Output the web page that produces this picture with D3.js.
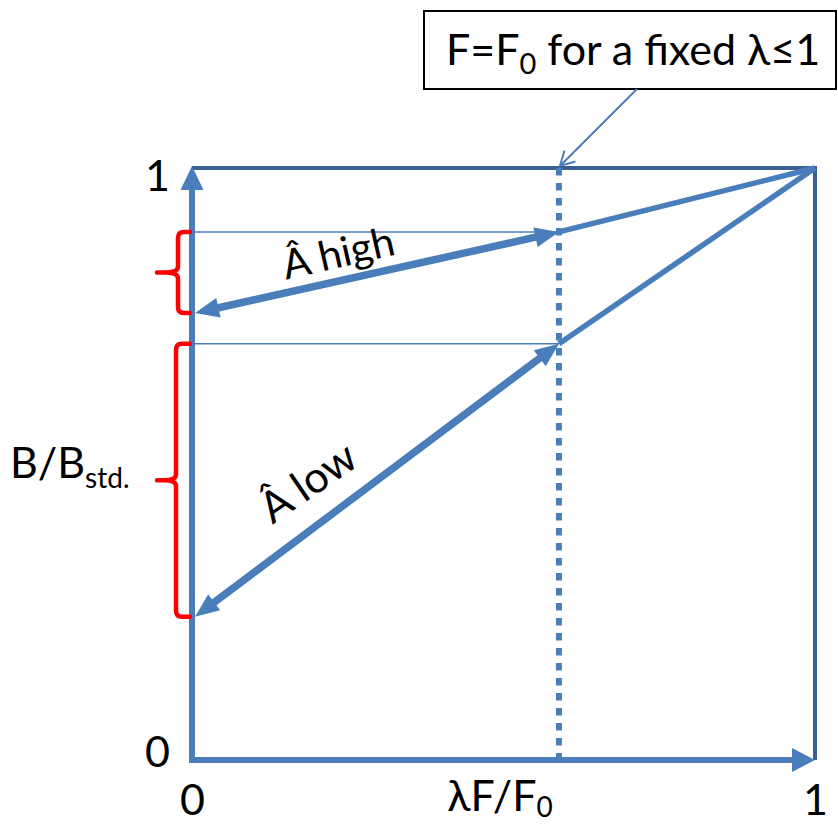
<!DOCTYPE html>
<html><head><meta charset="utf-8">
<script src="https://cdn.jsdelivr.net/npm/d3@7"></script>
<style>body{margin:0;background:#fff}svg{display:block}text{font-family:Lato,"Open Sans",sans-serif;fill:#000}</style>
</head><body>
<script>
// ---- data ----
const xTicks = [0, 1];
const yTicks = [0, 1];
const xLabel = "λF/F";
const yLabel = "B/B";
const fixedX = 0.589;                 // F = F0 for fixed lambda
const highPath = [[0, 0.755], [0.589, 0.892], [1, 1]];
const lowPath  = [[0, 0.242], [0.589, 0.703], [1, 1]];
const braces = [[0.755, 0.892], [0.242, 0.703]];
const curveLabels = ["Â high", "Â low"];
const calloutText = ["F=F", "0", " for a fixed λ≤1"];

const W = 838, H = 825;
const blue = "#4a7ebb", dark = "#3b6190", red = "#ff0000";
const svg = d3.select("body").append("svg").attr("width", W).attr("height", H);
const x = d3.scaleLinear().domain([0, 1]).range([192, 815]);
const y = d3.scaleLinear().domain([0, 1]).range([760, 168]);

function head(tip, from, len, wid, fill) {
  const dx = tip[0] - from[0], dy = tip[1] - from[1];
  const L = Math.hypot(dx, dy), ux = dx / L, uy = dy / L;
  const bx = tip[0] - ux * len, by = tip[1] - uy * len;
  const px = -uy * wid / 2, py = ux * wid / 2;
  svg.append("path").attr("d", `M${tip[0]},${tip[1]}L${bx + px},${by + py}L${bx - px},${by - py}Z`)
    .attr("fill", fill);
}
function shorten(a, b, d) {
  const dx = b[0] - a[0], dy = b[1] - a[1], L = Math.hypot(dx, dy);
  return [b[0] - dx / L * d, b[1] - dy / L * d];
}

// border (top and right)
svg.append("path").attr("d", `M${x(0)},${y(1)}H${x(1)}V${y(0)}`)
  .attr("fill", "none").attr("stroke", dark).attr("stroke-width", 4);

// dotted vertical line
svg.append("line").attr("x1", x(fixedX)).attr("x2", x(fixedX)).attr("y1", y(1)).attr("y2", y(0))
  .attr("stroke", blue).attr("stroke-width", 6).attr("stroke-dasharray", "7.5,7.5");

// thin horizontal guides
[highPath[1][1], lowPath[1][1]].forEach(v => {
  svg.append("line").attr("x1", x(0)).attr("x2", x(fixedX)).attr("y1", y(v)).attr("y2", y(v))
    .attr("stroke", blue).attr("stroke-width", 1.5);
});

// axes
const gx = svg.append("g").attr("transform", `translate(0,${y(0)})`)
  .call(d3.axisBottom(x).tickValues(xTicks).tickFormat(d3.format("d")).tickSize(0).tickPadding(24).tickSizeOuter(0));
const gy = svg.append("g").attr("transform", `translate(${x(0)},0)`)
  .call(d3.axisLeft(y).tickValues(yTicks).tickFormat(d3.format("d")).tickSize(0).tickPadding(22).tickSizeOuter(0));
[gx, gy].forEach(g => {
  g.select(".domain").attr("stroke", blue).attr("stroke-width", 6).attr("stroke-linecap", "square");
  g.selectAll("text").attr("font-family", "Lato, sans-serif").attr("font-size", 43).attr("fill", "#000");
});
gx.select(".domain").attr("d", `M${x(0)},0H${x(1) - 18}`);
gy.select(".domain").attr("d", `M0,${y(0)}V${y(1) + 18}`);
gx.selectAll("text").attr("dy", "0.72em");
gy.selectAll(".tick text").attr("dy", d => d === 1 ? "0.52em" : "0.14em");
head([x(1), y(0)], [x(0), y(0)], 23, 24, blue);
head([x(0), y(1) - 2], [x(0), y(0)], 24, 23, blue);

// curves
[highPath, lowPath].forEach(p => {
  const P = p.map(d => [x(d[0]), y(d[1])]);
  // thinner segment from (1,1) to dotted point
  svg.append("line").attr("x1", P[1][0]).attr("y1", P[1][1]).attr("x2", P[2][0]).attr("y2", P[2][1])
    .attr("stroke", blue).attr("stroke-width", 5.5);
  // thick double-headed arrow
  const a = [P[0][0] + 3, P[0][1]], b = P[1];
  const s1 = shorten(b, a, 15), s2 = shorten(a, b, 15);
  svg.append("line").attr("x1", s1[0]).attr("y1", s1[1]).attr("x2", s2[0]).attr("y2", s2[1])
    .attr("stroke", blue).attr("stroke-width", 7.5);
  head(a, b, 24, 20, blue);
  head(b, a, 24, 20, blue);
});

// braces
braces.forEach((br, i) => {
  const top = y(br[1]), bot = y(br[0]), mid = (top + bot) / 2;
  const sx = i === 0 ? 178 : 176, ex = x(0) - 2, tx = 157, r = 6;
  const d = `M${ex},${top}H${sx + r}Q${sx},${top} ${sx},${top + r}V${mid - r}Q${sx},${mid} ${tx + 8},${mid}H${tx}` +
            `M${tx + 8},${mid}Q${sx},${mid} ${sx},${mid + r}V${bot - r}Q${sx},${bot} ${sx + r},${bot}H${ex}`;
  svg.append("path").attr("d", d).attr("fill", "none").attr("stroke", red).attr("stroke-width", 4.5)
    .attr("stroke-linecap", "round");
});

// curve labels
const lab = [[338, 252, -12.8, 41], [307, 481, -34.5, 43]];
curveLabels.forEach((t, i) => {
  svg.append("text").attr("transform", `translate(${lab[i][0]},${lab[i][1]}) rotate(${lab[i][2]})`)
    .attr("text-anchor", "middle").attr("dominant-baseline", "central").attr("font-size", lab[i][3]).text(t);
});

// axis titles
const xt = svg.append("text").attr("x", 500).attr("y", 811).attr("text-anchor", "middle").attr("font-size", 43);
xt.append("tspan").text(xLabel);
xt.append("tspan").attr("dy", 6).attr("font-size", 28).text("0");
const yt = svg.append("text").attr("x", 10).attr("y", 478).attr("font-size", 43);
yt.append("tspan").text(yLabel);
yt.append("tspan").attr("dy", 10).attr("font-size", 28).text("std.");

// callout
svg.append("rect").attr("x", 424).attr("y", 11).attr("width", 412).attr("height", 78)
  .attr("fill", "#fff").attr("stroke", "#000").attr("stroke-width", 2);
const ct = svg.append("text").attr("x", 633).attr("y", 65).attr("text-anchor", "middle").attr("font-size", 43);
ct.append("tspan").text(calloutText[0]);
ct.append("tspan").attr("dy", 9).attr("font-size", 29).text(calloutText[1]);
ct.append("tspan").attr("dy", -9).text(calloutText[2]);
const cTip = [x(fixedX) + 1, y(1) - 2], cStart = [637, 89];
svg.append("line").attr("x1", cStart[0]).attr("y1", cStart[1]).attr("x2", cTip[0]).attr("y2", cTip[1])
  .attr("stroke", blue).attr("stroke-width", 2);
(function () {
  const dx = cStart[0] - cTip[0], dy = cStart[1] - cTip[1], L = Math.hypot(dx, dy);
  const ux = dx / L, uy = dy / L, len = 16, ang = 0.5;
  const r = (a) => [cTip[0] + len * (ux * Math.cos(a) - uy * Math.sin(a)), cTip[1] + len * (ux * Math.sin(a) + uy * Math.cos(a))];
  const p1 = r(ang), p2 = r(-ang);
  svg.append("path").attr("d", `M${p1[0]},${p1[1]}L${cTip[0]},${cTip[1]}L${p2[0]},${p2[1]}`)
    .attr("fill", "none").attr("stroke", blue).attr("stroke-width", 2);
})();
</script>
</body></html>
